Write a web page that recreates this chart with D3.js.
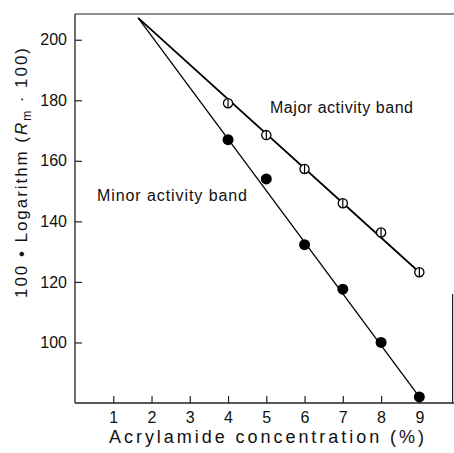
<!DOCTYPE html>
<html>
<head>
<meta charset="utf-8">
<script src="https://cdn.jsdelivr.net/npm/d3@7/dist/d3.min.js"></script>
<style>
  html, body { margin: 0; padding: 0; background: #fff; }
  svg { display: block; }
  text { font-family: "Liberation Sans", Arial, Helvetica, sans-serif; fill: #111; }
</style>
</head>
<body>
<svg id="chart" width="454" height="453"></svg>
<script>
// ---- data ----
const concentrations = [4, 5, 6, 7, 8, 9];
const majorValues = [179, 168.5, 157.3, 146, 136.3, 123.2];
const minorValues = [167, 154, 132.3, 117.6, 100, 82];
const fitStart = [1.65, 207.2];
const majorFitEnd = [9, 123.2];
const minorFitEnd = [9, 82];
const xTicks = [1, 2, 3, 4, 5, 6, 7, 8, 9];
const yTicks = [100, 120, 140, 160, 180, 200];
const xTitle = "Acrylamide concentration (%)";
const majorLabel = "Major activity band";
const minorLabel = "Minor activity band";

// ---- layout ----
const svg = d3.select("#chart");
const mLeft = 75, mRight = 453, mTop = 14, mBottom = 403;
const x = d3.scaleLinear().domain([0, 9.88]).range([mLeft, mRight]);
const y = d3.scaleLinear().domain([80, 208.5]).range([mBottom, mTop]);

// frame top and partial right
svg.append("line").attr("x1", mLeft).attr("x2", 454).attr("y1", mTop).attr("y2", mTop)
  .attr("stroke", "#222").attr("stroke-width", 1.2);
svg.append("line").attr("x1", x(9.87)).attr("x2", x(9.87)).attr("y1", y(116)).attr("y2", mBottom)
  .attr("stroke", "#222").attr("stroke-width", 1.2);

// axes
const xAxis = d3.axisBottom(x).tickValues(xTicks).tickSize(-7).tickPadding(9).tickFormat(d3.format("d"));
const yAxis = d3.axisLeft(y).tickValues(yTicks).tickSize(-7).tickPadding(8).tickFormat(d3.format("d"));

const gx = svg.append("g").attr("transform", `translate(0,${mBottom})`).call(xAxis);
const gy = svg.append("g").attr("transform", `translate(${mLeft},0)`).call(yAxis);
[gx, gy].forEach(g => {
  g.select(".domain").remove();
  g.selectAll(".tick line").attr("stroke", "#222").attr("stroke-width", 1.2);
  g.selectAll(".tick text").attr("font-size", 16).attr("fill", "#111")
    .style("font-family", '"Liberation Sans", Arial, sans-serif');
});
// axis lines spanning full plot
svg.append("line").attr("x1", mLeft).attr("x2", 454).attr("y1", mBottom).attr("y2", mBottom)
  .attr("stroke", "#222").attr("stroke-width", 1.3);
svg.append("line").attr("x1", mLeft).attr("x2", mLeft).attr("y1", mTop).attr("y2", mBottom)
  .attr("stroke", "#222").attr("stroke-width", 1.3);

// fit lines
const lineGen = d3.line().x(d => x(d[0])).y(d => y(d[1]));
svg.append("path").datum([fitStart, majorFitEnd]).attr("d", lineGen)
  .attr("stroke", "#000").attr("stroke-width", 1.8).attr("fill", "none");
svg.append("path").datum([fitStart, minorFitEnd]).attr("d", lineGen)
  .attr("stroke", "#000").attr("stroke-width", 1.3).attr("fill", "none");

// minor (filled circles)
svg.append("g").selectAll("circle").data(concentrations.map((c, i) => [c, minorValues[i]]))
  .join("circle").attr("cx", d => x(d[0])).attr("cy", d => y(d[1])).attr("r", 5.5).attr("fill", "#000");

// major (open circles with vertical bar)
const mg = svg.append("g").selectAll("g").data(concentrations.map((c, i) => [c, majorValues[i]]))
  .join("g").attr("transform", d => `translate(${x(d[0])},${y(d[1])})`);
mg.append("circle").attr("r", 4.6).attr("fill", "#fff").attr("stroke", "#000").attr("stroke-width", 1.3);
mg.append("line").attr("x1", 0).attr("x2", 0).attr("y1", -4.6).attr("y2", 4.6)
  .attr("stroke", "#000").attr("stroke-width", 1.2);

// labels
svg.append("text").attr("x", 270).attr("y", 113).attr("font-size", 16)
  .attr("textLength", 143).attr("lengthAdjust", "spacing").text(majorLabel);
svg.append("text").attr("x", 97).attr("y", 201).attr("font-size", 16)
  .attr("textLength", 150).attr("lengthAdjust", "spacing").text(minorLabel);

// x title
svg.append("text").attr("x", 109).attr("y", 443).attr("font-size", 18)
  .attr("textLength", 315).attr("lengthAdjust", "spacing").text(xTitle);

// y title
const yt = svg.append("text").attr("transform", "translate(27,173) rotate(-90)")
  .attr("text-anchor", "middle").attr("font-size", 17)
  .attr("textLength", 250).attr("lengthAdjust", "spacing");
yt.append("tspan").text("100 \u2022 Logarithm (");
yt.append("tspan").attr("font-style", "italic").text("R");
yt.append("tspan").attr("font-size", 12).attr("dy", 4).text("m");
yt.append("tspan").attr("dy", -4).text(" \u00b7 100)");
</script>
</body>
</html>
